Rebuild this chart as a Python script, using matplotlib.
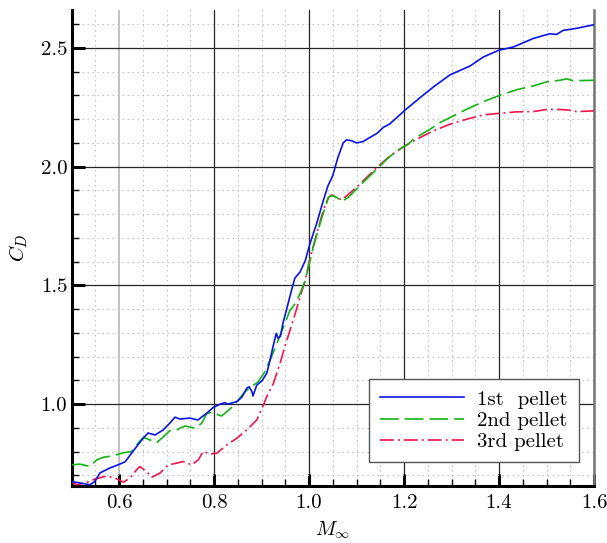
import matplotlib
matplotlib.use("Agg")
import matplotlib.pyplot as plt
from matplotlib.ticker import MultipleLocator, FixedLocator
import numpy as np

plt.rcParams['font.family'] = ['cmr10', 'DejaVu Serif']
plt.rcParams['mathtext.fontset'] = 'cm'
plt.rcParams['axes.formatter.use_mathtext'] = True
plt.rcParams['lines.scale_dashes'] = False

# ---- data ----
m1 = [0.497, 0.518, 0.539, 0.549, 0.56, 0.581, 0.598, 0.613, 0.629, 0.648, 0.661, 0.676, 0.693,
      0.707, 0.718, 0.728, 0.749, 0.766, 0.785, 0.798, 0.813, 0.823, 0.829, 0.84, 0.848, 0.859,
      0.869, 0.874, 0.88, 0.882, 0.89, 0.901, 0.911, 0.918, 0.924, 0.931, 0.935, 0.94, 0.945,
      0.953, 0.96, 0.97, 0.981, 0.992, 1.002, 1.016, 1.03, 1.04, 1.05, 1.061, 1.072, 1.079,
      1.09, 1.10, 1.114, 1.128, 1.143, 1.156, 1.17, 1.185, 1.202, 1.234, 1.262, 1.297, 1.339,
      1.367, 1.399, 1.43, 1.472, 1.507, 1.521, 1.535, 1.564, 1.60]
cd1 = [0.674, 0.668, 0.66, 0.674, 0.71, 0.731, 0.744, 0.757, 0.80, 0.849, 0.878, 0.87, 0.891,
       0.92, 0.945, 0.937, 0.941, 0.933, 0.962, 0.985, 1.0, 1.006, 1.0, 1.006, 1.01, 1.03,
       1.067, 1.073, 1.052, 1.034, 1.08, 1.098, 1.13, 1.185, 1.24, 1.298, 1.277, 1.286, 1.34,
       1.40, 1.455, 1.53, 1.556, 1.603, 1.676, 1.76, 1.857, 1.92, 1.962, 2.04, 2.10, 2.113,
       2.109, 2.10, 2.106, 2.123, 2.14, 2.165, 2.18, 2.207, 2.238, 2.291, 2.336, 2.387, 2.424,
       2.462, 2.49, 2.504, 2.54, 2.56, 2.557, 2.574, 2.583, 2.598]

m2 = [0.497, 0.518, 0.539, 0.553, 0.567, 0.588, 0.609, 0.627, 0.637, 0.651, 0.665, 0.679, 0.69,
      0.707, 0.721, 0.739, 0.76, 0.774, 0.785, 0.799, 0.809, 0.816, 0.827, 0.837, 0.851, 0.865,
      0.879, 0.893, 0.907, 0.921, 0.935, 0.949, 0.96, 0.971, 0.981, 0.992, 0.999, 1.009, 1.023,
      1.034, 1.041, 1.048, 1.058, 1.069, 1.083, 1.10, 1.121, 1.143, 1.164, 1.185, 1.209, 1.22,
      1.255, 1.276, 1.304, 1.332, 1.367, 1.402, 1.437, 1.472, 1.50, 1.528, 1.543, 1.556, 1.60]
cd2 = [0.744, 0.747, 0.737, 0.765, 0.776, 0.782, 0.795, 0.80, 0.828, 0.86, 0.849, 0.837, 0.856,
       0.888, 0.891, 0.908, 0.898, 0.919, 0.961, 0.966, 0.954, 0.95, 0.968, 0.986, 1.017, 1.052,
       1.073, 1.094, 1.136, 1.199, 1.269, 1.339, 1.395, 1.423, 1.465, 1.521, 1.577, 1.661, 1.759,
       1.829, 1.871, 1.878, 1.871, 1.854, 1.871, 1.906, 1.948, 1.99, 2.032, 2.067, 2.095, 2.116,
       2.158, 2.186, 2.214, 2.242, 2.274, 2.301, 2.324, 2.34, 2.357, 2.364, 2.37, 2.362, 2.364]

m3 = [0.497, 0.511, 0.53, 0.549, 0.574, 0.592, 0.609, 0.623, 0.637, 0.644, 0.658, 0.669, 0.686,
      0.704, 0.721, 0.735, 0.753, 0.767, 0.777, 0.792, 0.806, 0.827, 0.848, 0.869, 0.89, 0.904,
      0.911, 0.925, 0.939, 0.949, 0.96, 0.971, 0.981, 0.992, 1.001, 1.016, 1.03, 1.041, 1.048,
      1.058, 1.069, 1.10, 1.143, 1.171, 1.202, 1.227, 1.248, 1.262, 1.297, 1.332, 1.367, 1.402,
      1.437, 1.472, 1.50, 1.528, 1.549, 1.563, 1.60]
cd3 = [0.674, 0.66, 0.668, 0.684, 0.697, 0.688, 0.671, 0.688, 0.723, 0.737, 0.716, 0.692, 0.709,
       0.744, 0.751, 0.758, 0.744, 0.765, 0.80, 0.79, 0.793, 0.828, 0.856, 0.891, 0.933, 0.996,
       1.031, 1.087, 1.171, 1.241, 1.311, 1.381, 1.451, 1.521, 1.605, 1.717, 1.815, 1.871, 1.881,
       1.871, 1.86, 1.913, 1.997, 2.046, 2.088, 2.116, 2.137, 2.151, 2.179, 2.20, 2.218, 2.225,
       2.231, 2.232, 2.241, 2.241, 2.238, 2.232, 2.235]

labels = [r'1st  pellet', r'2nd pellet', r'3rd pellet']
xticks = [0.6, 0.8, 1.0, 1.2, 1.4, 1.6]
yticks = [1.0, 1.5, 2.0, 2.5]

fig = plt.figure(figsize=(6.07, 5.43), dpi=100)
ax = fig.add_axes([0.1178, 0.105, 0.8608, 0.8766])

ax.plot(m1, cd1, color='#0a14e6', lw=1.2, label=labels[0], zorder=5)
ax.plot(m2, cd2, color='#14b414', lw=1.2, ls=(0, (13.5, 4.3)), label=labels[1], zorder=4)
ax.plot(m3, cd3, color='#f0144b', lw=1.2, ls=(0, (10, 2.9, 1.4, 2.9)), label=labels[2], zorder=3)

ax.set_xlim(0.5, 1.6)
ax.set_ylim(0.655, 2.66)
ax.xaxis.set_major_locator(FixedLocator(xticks))
ax.yaxis.set_major_locator(FixedLocator(yticks))
ax.xaxis.set_minor_locator(MultipleLocator(0.05))
ax.yaxis.set_minor_locator(MultipleLocator(0.1))
ax.set_xticklabels(['%.1f' % t for t in xticks])
ax.set_yticklabels(['%.1f' % t for t in yticks])

ax.grid(which='major', color='#262626', lw=0.9, zorder=1)
ax.grid(which='minor', color='#bcbcbc', lw=0.8, ls=(0, (1.0, 2.6)), zorder=0)
ax.xaxis.get_gridlines()[0].set_color('#bdbdbd')
ax.xaxis.get_gridlines()[0].set_linewidth(1.3)
ax.set_axisbelow(True)

ax.tick_params(which='major', direction='in', length=9, width=2.2, labelsize=15)
ax.tick_params(which='minor', direction='in', length=5, width=1.0)
ax.tick_params(axis='x', which='both', top=False, pad=6)
ax.tick_params(axis='y', which='both', right=False, pad=3)

for s in ['left', 'bottom']:
    ax.spines[s].set_linewidth(2.2)
    ax.spines[s].set_color('black')
ax.spines['top'].set_visible(False)
ax.spines['right'].set_color('#777777')
ax.spines['right'].set_linewidth(1.8)

ax.set_xlabel(r'$M_\infty$', fontsize=14.5, labelpad=5)
ax.set_ylabel(r'$C_D$', fontsize=15, labelpad=8)

leg = ax.legend(loc='upper left', bbox_to_anchor=(0.569, 0.2254), borderaxespad=0,
                fancybox=False, framealpha=1, edgecolor='#555555', fontsize=15,
                handlelength=4.0, handletextpad=0.65, labelspacing=0.12,
                borderpad=0.55)
leg.get_frame().set_linewidth(1.0)
leg.set_zorder(10)

fig.savefig('out.png', dpi=100)
